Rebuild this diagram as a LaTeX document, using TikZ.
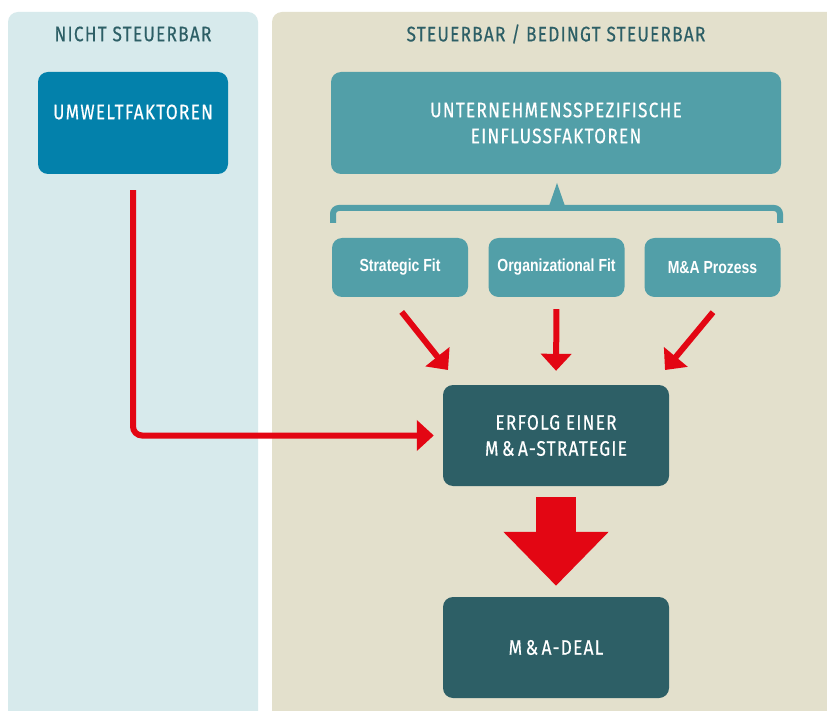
\documentclass[tikz,border=0pt]{standalone}
\usepackage{fontspec}
\setmainfont{Fira Sans}
\newfontfamily\dinfont[FakeStretch=0.82,LetterSpace=6,FakeBold=0.4]{Fira Sans}
\newfontfamily\condfont[FakeStretch=0.8]{Liberation Sans}
\usetikzlibrary{arrows.meta,calc}
\definecolor{leftbg}{HTML}{D7EAEC}
\definecolor{rightbg}{HTML}{E3E0CC}
\definecolor{umblue}{HTML}{0381AB}
\definecolor{tealbox}{HTML}{529FA8}
\definecolor{darkbox}{HTML}{2D5F66}
\definecolor{arrowred}{HTML}{E30613}
\tikzset{
  panelbg/.style={rounded corners=10pt},
  titletext/.style={text=darkbox, font=\dinfont\fontsize{21}{24}\selectfont},
  boxtext/.style={text=white, font=\dinfont\fontsize{21}{26}\selectfont, align=center},
  smalltext/.style={text=white, font=\condfont\bfseries\fontsize{17.5}{20}\selectfont},
  bigbox/.style={rounded corners=10pt, minimum width=#1, minimum height=101pt, inner sep=0pt},
  smallbox/.style={rounded corners=10pt, fill=tealbox, minimum width=136pt, minimum height=59pt, inner sep=0pt, smalltext},
  redarrow/.style={draw=arrowred, line width=6pt, -{Triangle[length=17pt,width=30pt]}},
}
\begin{document}
\begin{tikzpicture}[x=1pt,y=-1pt]
\useasboundingbox (0,0) rectangle (827,711);
\fill[white] (0,0) rectangle (827,711);
\begin{scope}
\clip (0,0) rectangle (827,711);
\fill[leftbg, panelbg] (8,12) rectangle (258,740);
\fill[rightbg, panelbg] (272,12) rectangle (860,740);
\end{scope}
% titles
\node[titletext] (tleft) at (133,34) {NICHT STEUERBAR};
\node[titletext] (tright) at (556,34) {STEUERBAR / BEDINGT STEUERBAR};
% boxes
\node[bigbox=190pt, minimum height=102pt, fill=umblue,
      label={[boxtext, yshift=11pt]center:UMWELTFAKTOREN}] (umwelt) at (133,123) {};
\node[bigbox=450pt, minimum height=102pt, fill=tealbox, boxtext] (unter) at (556,123) {UNTERNEHMENSSPEZIFISCHE\\EINFLUSSFAKTOREN};
\node[smallbox] (sfit) at (400,267.5) {Strategic Fit};
\node[smallbox] (ofit) at (556.5,267.5) {Organizational Fit};
\node[smallbox] (mapr) at (712.5,267.5) {M\&A Prozess};
\node[bigbox=226pt, fill=darkbox, boxtext] (strat) at (556,435.5) {ERFOLG EINER\\M\,\&\,A-STRATEGIE};
\node[bigbox=226pt, fill=darkbox, boxtext] (deal) at (556,647.5) {M\,\&\,A-DEAL};
% bracket
\draw[tealbox, line width=6pt, rounded corners=6pt] (333,223) |- (557,208) -| (780,223);
\fill[tealbox] (548,209) -- (557,183) -- (566,209) -- cycle;
% red connectors
\coordinate (tipl) at (448,370);
\coordinate (tipr) at (665,370);
\draw[redarrow, rounded corners=9pt, shorten >=9pt] ([yshift=-16pt]umwelt.south) |- (strat.west);
\draw[redarrow] ($(sfit.south)+(1.7,14.7)$) -- (tipl);
\draw[redarrow, shorten <=12pt, shorten >=14pt] (ofit.south) -- (strat.north);
\draw[redarrow] ($(mapr.south)+(0.5,15)$) -- (tipr);
\draw[arrowred, line width=40pt, -{Triangle[length=54pt,width=102pt]}] ([yshift=-11pt]strat.south) -- ([yshift=11pt]deal.north);
\end{tikzpicture}
\end{document}
